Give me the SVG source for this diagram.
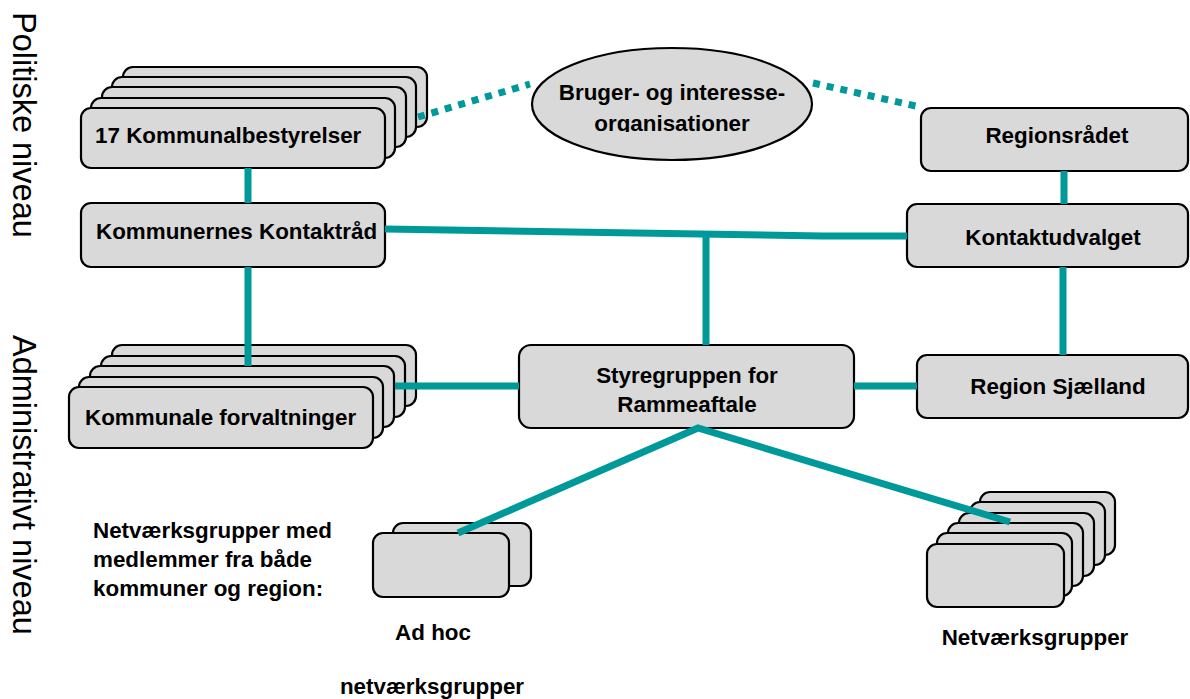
<svg xmlns="http://www.w3.org/2000/svg" width="1190" height="699" viewBox="0 0 1190 699">
<style>
.b{fill:#d9d9d9;stroke:#000;stroke-width:2.2}
.t{font-family:"Liberation Sans",Arial,sans-serif;font-weight:bold;font-size:22.4px;fill:#000}
.v{font-family:"Liberation Sans",Arial,sans-serif;font-size:32.5px;fill:#000}
.c{fill:none;stroke:#009999;stroke-width:7}
.d{fill:none;stroke:#009999;stroke-width:7;stroke-dasharray:7 7}
</style>
<defs>
<clipPath id="ec"><rect x="500" y="40" width="350" height="92"/></clipPath>
</defs>
<rect width="1190" height="699" fill="#fff"/>
<text class="v" transform="translate(13,12) rotate(90)">Politiske niveau</text>
<text class="v" transform="translate(13,335) rotate(90)">Administrativt niveau</text>
<g id="kommunalbestyrelser">
<rect class="b" x="123" y="67" width="304" height="60" rx="10"/>
<rect class="b" x="112" y="77" width="304" height="60" rx="10"/>
<rect class="b" x="102" y="87" width="304" height="60" rx="10"/>
<rect class="b" x="91" y="98" width="304" height="60" rx="10"/>
<rect class="b" x="81" y="108" width="304" height="60" rx="10"/>
<text class="t" x="95" y="143">17 Kommunalbestyrelser</text>
</g>
<g id="bruger">
<ellipse class="b" cx="672" cy="104" rx="140" ry="56"/>
<g clip-path="url(#ec)">
<text class="t" x="672" y="100" text-anchor="middle">Bruger- og interesse-</text>
<text class="t" x="672" y="131" text-anchor="middle">organisationer</text>
</g>
</g>
<g id="regionsraadet">
<rect class="b" x="921" y="108" width="267" height="63" rx="10"/>
<text class="t" x="1057" y="143" text-anchor="middle">Regionsrådet</text>
</g>
<g id="kontaktraad">
<rect class="b" x="81" y="203" width="304" height="64" rx="10"/>
<text class="t" x="96" y="239">Kommunernes Kontaktråd</text>
</g>
<g id="kontaktudvalget">
<rect class="b" x="907" y="204" width="281" height="63" rx="10"/>
<text class="t" x="1053" y="245" text-anchor="middle">Kontaktudvalget</text>
</g>
<g id="forvaltninger">
<rect class="b" x="112" y="345" width="304" height="61" rx="10"/>
<rect class="b" x="101" y="356" width="304" height="61" rx="10"/>
<rect class="b" x="90" y="366" width="304" height="61" rx="10"/>
<rect class="b" x="79" y="377" width="304" height="61" rx="10"/>
<rect class="b" x="69" y="387" width="304" height="61" rx="10"/>
<text class="t" x="85" y="425">Kommunale forvaltninger</text>
</g>
<g id="styregruppen">
<rect class="b" x="519" y="345" width="335" height="83" rx="12"/>
<text class="t" x="687" y="383" text-anchor="middle">Styregruppen for</text>
<text class="t" x="687" y="412" text-anchor="middle">Rammeaftale</text>
</g>
<g id="regionsjaelland">
<rect class="b" x="917" y="355" width="271" height="63" rx="10"/>
<text class="t" x="1058" y="394" text-anchor="middle">Region Sjælland</text>
</g>
<g id="adhoc">
<rect class="b" x="393" y="523" width="138" height="63" rx="10"/>
<rect class="b" x="373" y="533" width="136" height="64" rx="10"/>
</g>
<g id="netvaerksgrupper">
<rect class="b" x="980" y="492" width="135" height="63" rx="10"/>
<rect class="b" x="970" y="502" width="135" height="63" rx="10"/>
<rect class="b" x="959" y="513" width="135" height="63" rx="10"/>
<rect class="b" x="948" y="523" width="135" height="63" rx="10"/>
<rect class="b" x="937" y="533" width="135" height="63" rx="10"/>
<rect class="b" x="927" y="544" width="137" height="63" rx="10"/>
</g>
<g id="labels">
<text class="t" x="93" y="538">Netværksgrupper med</text>
<text class="t" x="93" y="567">medlemmer fra både</text>
<text class="t" x="93" y="596">kommuner og region:</text>
<text class="t" x="433" y="640" text-anchor="middle">Ad hoc</text>
<text class="t" x="432" y="694" text-anchor="middle">netværksgrupper</text>
<text class="t" x="1035" y="645" text-anchor="middle">Netværksgrupper</text>
</g>
<g id="connectors">
<line class="d" x1="418" y1="117" x2="530" y2="84"/>
<line class="d" x1="813" y1="83" x2="920" y2="107"/>
<line class="c" x1="248" y1="168" x2="248" y2="203"/>
<line class="c" x1="248" y1="267" x2="248" y2="366"/>
<polyline class="c" points="385,229 823,236 907,236"/>
<line class="c" x1="706" y1="233" x2="706" y2="345"/>
<line class="c" x1="1064" y1="171" x2="1064" y2="204"/>
<line class="c" x1="1063" y1="267" x2="1063" y2="355"/>
<line class="c" x1="395" y1="386" x2="519" y2="386"/>
<line class="c" x1="854" y1="386" x2="917" y2="386"/>
<polyline class="c" points="458,533 698,428 1010,522"/>
</g>
</svg>
